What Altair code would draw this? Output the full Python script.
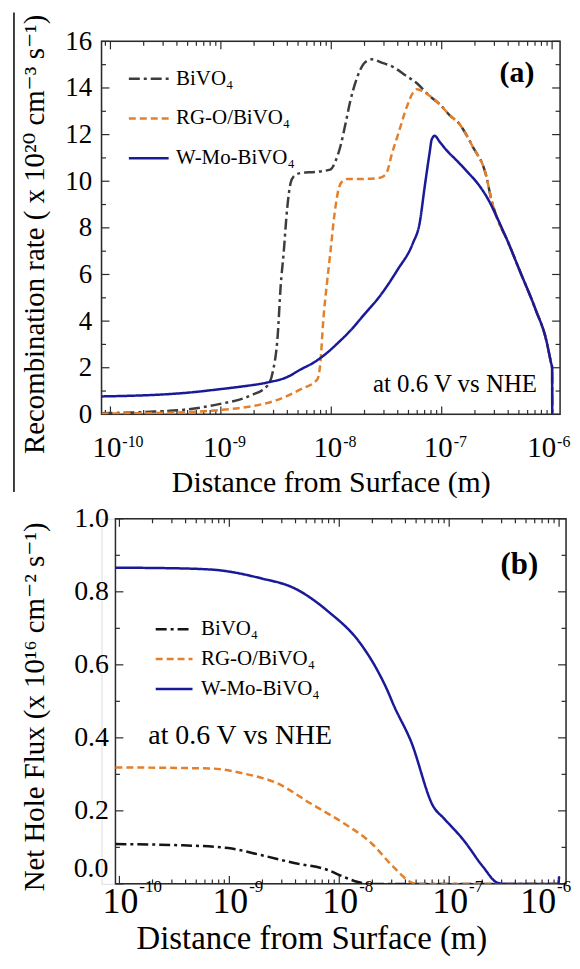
import altair as alt
import pandas as pd

FONT = "Liberation Serif"
FONT_STACK = "Liberation Serif, DejaVu Serif"
FRAME = "#2b2b2b"

SERIES = ["BiVO₄", "RG-O/BiVO₄", "W-Mo-BiVO₄"]
COLORS_A = ["#3d3d3d", "#E4802B", "#1A1A98"]
COLORS_B = ["#141414", "#E4802B", "#1A1A98"]
DASHES = [[11, 4, 3, 4], [7, 4], [1, 0]]

# ---------------- panel (a): recombination rate ----------------
A_BIVO_X = [8.32e-11, 2.51e-10, 4.65e-10, 9.4e-10, 1.86e-9, 2.65e-9, 2.94e-9, 3.27e-9, 3.48e-9,
            3.70e-9, 3.98e-9, 4.27e-9, 4.55e-9, 5.25e-9, 7.08e-9, 9.79e-9, 1.10e-8, 1.21e-8,
            1.35e-8, 1.48e-8, 1.70e-8, 1.94e-8, 2.19e-8, 2.34e-8, 2.82e-8, 3.63e-8, 4.68e-8,
            5.96e-8, 7.59e-8, 9.6e-8, 1.17e-7, 1.45e-7, 1.90e-7, 2.54e-7, 2.82e-7, 3.13e-7,
            3.98e-7, 5.05e-7, 7.08e-7, 8.83e-7, 9.79e-7, 1.0e-6, 1.002e-6]
A_BIVO_Y = [0.05, 0.12, 0.2, 0.43, 0.81, 1.24, 1.79, 3.37, 5.5,
            6.9, 8.8, 9.9, 10.2, 10.35, 10.4, 10.5, 10.9, 11.5,
            12.5, 13.4, 14.4, 15.0, 15.2, 15.23, 15.1, 14.9, 14.55,
            14.2, 13.7, 13.3, 12.85, 12.45, 11.5, 10.2, 9.2, 8.5,
            7.4, 6.2, 4.5, 3.2, 2.2, 2.0, 0.0]

A_RGO_X = [8.32e-11, 2.51e-10, 4.65e-10, 9.4e-10, 1.86e-9, 3.16e-9, 5.25e-9, 7.48e-9, 7.96e-9,
           8.47e-9, 9.12e-9, 9.79e-9, 1.07e-8, 1.17e-8, 1.26e-8, 1.41e-8, 2.0e-8, 2.76e-8,
           2.95e-8, 3.2e-8, 3.55e-8, 4.02e-8, 4.84e-8, 5.50e-8, 5.96e-8, 6.76e-8, 7.59e-8,
           9.6e-8, 1.17e-7, 1.45e-7, 1.90e-7, 2.54e-7, 2.82e-7, 3.13e-7, 3.98e-7, 5.05e-7,
           7.08e-7, 8.83e-7, 9.79e-7, 1.0e-6, 1.002e-6]
A_RGO_Y = [0.03, 0.06, 0.09, 0.18, 0.34, 0.6, 1.07, 1.5, 2.2,
           4.05, 5.6, 6.9, 8.6, 9.7, 10.0, 10.1, 10.1, 10.15,
           10.2, 10.4, 11.2, 12.0, 13.2, 13.8, 13.95, 13.85, 13.7,
           13.3, 12.85, 12.45, 11.5, 10.2, 9.2, 8.5, 7.4, 6.2,
           4.5, 3.2, 2.2, 2.0, 0.0]

A_WMO_X = [8.32e-11, 1.58e-10, 2.88e-10, 5.01e-10, 9.4e-10, 1.58e-9, 2.65e-9, 3.98e-9, 5.25e-9,
           7.08e-9, 9.2e-9, 1.17e-8, 1.48e-8, 2.0e-8, 2.76e-8, 3.98e-8, 5.48e-8, 6.31e-8,
           7.03e-8, 7.76e-8, 8.13e-8, 8.65e-8, 9.55e-8, 1.12e-7, 1.36e-7, 1.75e-7, 2.20e-7,
           2.70e-7, 3.13e-7, 3.98e-7, 5.05e-7, 7.08e-7, 8.83e-7, 9.79e-7, 1.0e-6, 1.002e-6]
A_WMO_Y = [0.77, 0.8, 0.85, 0.93, 1.07, 1.2, 1.37, 1.6, 1.92,
           2.25, 2.65, 3.1, 3.58, 4.3, 5.08, 6.2, 7.34, 8.2,
           9.8, 11.2, 11.8, 11.95, 11.7, 11.3, 10.9, 10.35, 9.8,
           9.13, 8.5, 7.4, 6.2, 4.5, 3.2, 2.2, 2.0, 0.0]

# ---------------- panel (b): net hole flux ----------------
B_BIVO_X = [9.2e-11, 3.43e-10, 9.77e-10, 1.94e-9, 3.89e-9, 7.87e-9, 1.10e-8, 1.48e-8, 1.95e-8,
            1.0e-7, 1.0e-6]
B_BIVO_Y = [0.109, 0.106, 0.098, 0.079, 0.057, 0.038, 0.019, 0.005, 0.0, 0.0, 0.0]

B_RGO_X = [9.2e-11, 6.82e-10, 1.36e-9, 2.75e-9, 5.5e-9, 1.10e-8, 1.95e-8, 3.12e-8, 4.47e-8,
           5.13e-8, 1.0e-7, 1.0e-6]
B_RGO_Y = [0.319, 0.316, 0.302, 0.275, 0.22, 0.166, 0.112, 0.046, 0.005, 0.0, 0.0, 0.0]

B_WMO_X = [9.2e-11, 2.51e-10, 6.82e-10, 1.94e-9, 3.89e-9, 7.87e-9, 1.57e-8, 2.24e-8, 2.75e-8,
           3.12e-8, 4.47e-8, 7.24e-8, 8.91e-8, 1.35e-7, 2.04e-7, 2.75e-7, 3.2e-7, 9.5e-7,
           9.8e-7, 1.0e-6]
B_WMO_Y = [0.866, 0.865, 0.861, 0.837, 0.81, 0.747, 0.657, 0.583, 0.529,
           0.49, 0.392, 0.21, 0.18, 0.12, 0.046, 0.003, 0.0, 0.0,
           0.0, 0.02]

# ---------------- ticks and labels ----------------
DECADES = [1e-10, 1e-9, 1e-8, 1e-7, 1e-6]
EXPONENTS = ["-10", "-9", "-8", "-7", "-6"]
MINOR_MULT = [2, 3, 4, 5, 6, 7, 8, 9]
MINOR_BASE = [1e-11, 1e-10, 1e-9, 1e-8, 1e-7]
A_YMAJOR = [0, 2, 4, 6, 8, 10, 12, 14, 16]
A_YMINOR = [1, 3, 5, 7, 9, 11, 13, 15]
B_YMAJOR = [0.0, 0.2, 0.4, 0.6, 0.8, 1.0]
B_YMINOR = [0.1, 0.3, 0.5, 0.7, 0.9]


def series_df(xs_list, ys_list):
    rows = []
    for s, xs, ys in zip(SERIES, xs_list, ys_list):
        for i, (x, y) in enumerate(zip(xs, ys)):
            rows.append({"series": s, "x": x, "y": y, "i": i})
    return pd.DataFrame(rows)


def panel(df, colors, xdom, frame_x, ydom, W, H, left_px, ymaj, ymin, yaxis, xaxis,
          legend, lab10, labexp, last_shift, annotations, extra=None, zero_label=None):
    xs = alt.Scale(type="log", domain=xdom)
    ys = alt.Scale(domain=ydom, nice=False, zero=False)

    def X(f):
        return alt.X(f, type="quantitative", scale=xs, axis=xaxis)

    def Y(f):
        return alt.Y(f, type="quantitative", scale=ys, axis=yaxis)

    layers = []
    lines = alt.Chart(df).mark_line(strokeWidth=2.5, clip=True, interpolate="monotone").encode(
        x=X("x"), y=Y("y"),
        color=alt.Color("series:N", scale=alt.Scale(domain=SERIES, range=colors), legend=legend),
        strokeDash=alt.StrokeDash("series:N", scale=alt.Scale(domain=SERIES, range=DASHES),
                                  legend=legend),
        order=alt.Order("i:Q"),
    )
    frame = alt.Chart(pd.DataFrame({"x0": [frame_x[0]], "x1": [frame_x[1]],
                                    "y0": [ydom[0]], "y1": [ydom[1]]})).mark_rect(
        fillOpacity=0, stroke=FRAME, strokeWidth=1.5).encode(
        x=X("x0"), x2="x1", y=Y("y0"), y2="y1")
    layers.append(frame)

    minor_x = [m * b for b in MINOR_BASE for m in MINOR_MULT if frame_x[0] < m * b < frame_x[1]]
    for vals, ln in [(DECADES, 8), (minor_x, 4.5)]:
        b = alt.Chart(pd.DataFrame({"v": vals})).mark_rule(stroke=FRAME, strokeWidth=1.2)
        layers.append(b.encode(x=X("v"), y=alt.value(H), y2=alt.value(H - ln)))
        layers.append(b.encode(x=X("v"), y=alt.value(0), y2=alt.value(ln)))
    for vals, ln in [(ymaj, 8), (ymin, 4.5)]:
        b = alt.Chart(pd.DataFrame({"v": vals})).mark_rule(stroke=FRAME, strokeWidth=1.2)
        layers.append(b.encode(y=Y("v"), x=alt.value(left_px), x2=alt.value(left_px + ln)))
        layers.append(b.encode(y=Y("v"), x=alt.value(W), x2=alt.value(W - ln)))

    # decade labels "10" with raised exponent; the last one is nudged inside the page
    for sub, shift in [(slice(0, 4), 0), (slice(4, 5), last_shift)]:
        lab = pd.DataFrame({"v": DECADES[sub], "e": EXPONENTS[sub]})
        layers.append(alt.Chart(lab).mark_text(text="10", font=FONT, fontSize=lab10[0],
                                               align="right", baseline="alphabetic",
                                               dx=lab10[2] + shift, color="black")
                      .encode(x=X("v"), y=alt.value(H + lab10[1])))
        layers.append(alt.Chart(lab).mark_text(font=FONT, fontSize=labexp[0], align="left",
                                               baseline="alphabetic", dx=labexp[2] + shift,
                                               color="black")
                      .encode(x=X("v"), y=alt.value(H + labexp[1]), text="e:N"))

    if zero_label is not None:
        zl = pd.DataFrame({"v": [zero_label[0]], "t": [zero_label[1]]})
        layers.append(alt.Chart(zl).mark_text(font=FONT, fontSize=zero_label[2], align="right",
                                              baseline="middle", dy=zero_label[3],
                                              color="black")
                      .encode(y=Y("v"), x=alt.value(left_px - zero_label[4]), text="t:N"))

    for (ax, ay, txt, size, weight, align) in annotations:
        layers.append(alt.Chart(pd.DataFrame({"x": [ax], "y": [ay], "t": [txt]})).mark_text(
            font=FONT, fontSize=size, fontWeight=weight, align=align, baseline="alphabetic",
            color="black").encode(x=X("x"), y=Y("y"), text="t:N"))
    layers.append(lines)
    if extra is not None:
        layers.append(extra)
    return alt.layer(*layers).properties(width=W, height=H)


# ---------- panel (a) ----------
A_W, A_H = 461, 375
a_yaxis = alt.Axis(values=A_YMAJOR, format="d", ticks=False, tickSize=0, domain=False, grid=False,
                   labelFontSize=27, labelPadding=10, labelFont=FONT,
                   title="Recombination rate ( x 10²⁰ cm⁻³ s⁻¹)", titleFont=FONT_STACK,
                   titleFontWeight="normal", titleFontSize=29, titlePadding=15,
                   titleY=193.5)
a_xaxis = alt.Axis(labels=False, ticks=False, tickSize=0, domain=False, grid=False,
                   title="Distance from Surface (m)", titleFont=FONT, titleFontWeight="normal",
                   titleFontSize=30, titlePadding=54)
a_legend = alt.Legend(orient="none", legendX=26, legendY=16, title=None, labelFont=FONT_STACK,
                      labelFontSize=21, labelFontWeight="normal", labelColor="black",
                      symbolType="stroke", symbolSize=1600, symbolStrokeWidth=2.5,
                      rowPadding=8, padding=0, labelOffset=6)
border = alt.Chart(pd.DataFrame({"k": [0]})).mark_rule(stroke="black", strokeWidth=1.5).encode(
    x=alt.value(-88), y=alt.value(-29), y2=alt.value(453))

top = panel(series_df([A_BIVO_X, A_RGO_X, A_WMO_X], [A_BIVO_Y, A_RGO_Y, A_WMO_Y]), COLORS_A,
            [8.3e-11, 1.18e-6], [8.3e-11, 1.18e-6], [0, 16], A_W, A_H, 0,
            A_YMAJOR, A_YMINOR, a_yaxis, a_xaxis, a_legend,
            (29, 43, 11), (16, 33, 12), -7,
            [(6.9e-7, 14.25, "(a)", 30, "bold", "right"),
             (7.3e-7, 0.94, "at 0.6 V vs NHE", 25, "normal", "right")],
            extra=border)

# ---------- panel (b) ----------
B_W, B_H = 467, 367
b_yaxis = alt.Axis(values=B_YMAJOR[1:], format=".1f", ticks=False, tickSize=0, domain=False,
                   grid=False, labelFontSize=28, labelPadding=7, offset=-14, labelFont=FONT,
                   title="Net Hole Flux (x 10¹⁶ cm⁻² s⁻¹)", titleFont=FONT_STACK,
                   titleFontWeight="normal", titleFontSize=29, titlePadding=24,
                   titleY=188.5)
b_xaxis = alt.Axis(labels=False, ticks=False, tickSize=0, domain=False, grid=False,
                   title="Distance from Surface (m)", titleFont=FONT, titleFontWeight="normal",
                   titleFontSize=33, titlePadding=39, titleX=211)
b_legend = alt.Legend(orient="none", legendX=53, legendY=91, title=None, labelFont=FONT_STACK,
                      labelFontSize=21, labelFontWeight="normal", labelColor="black",
                      symbolType="stroke", symbolSize=1369, symbolStrokeWidth=2.5,
                      rowPadding=-1.5, padding=0, labelOffset=7)

bottom = panel(series_df([B_BIVO_X, B_RGO_X, B_WMO_X], [B_BIVO_Y, B_RGO_Y, B_WMO_Y]), COLORS_B,
               [6.87e-11, 1.156e-6], [9.2e-11, 1.156e-6], [0, 1], B_W, B_H, 14,
               B_YMAJOR, B_YMINOR, b_yaxis, b_xaxis, b_legend,
               (36, 29, 19), (17, 8, 20), -22,
               [(6.46e-7, 0.85, "(b)", 31, "bold", "right"),
                (1.83e-10, 0.384, "at 0.6 V vs NHE", 28, "normal", "left")],
               zero_label=(B_YMAJOR[0], "0.0", 28, -15, 7))

chart = alt.vconcat(top, bottom, spacing=5).resolve_scale(
    x="independent", y="independent", color="independent", strokeDash="independent"
).resolve_legend(color="independent", strokeDash="independent").properties(
    padding={"left": 4, "top": 0, "right": 0, "bottom": 0}
).configure_view(strokeWidth=0).configure_axis(
    labelFont=FONT, titleFont=FONT, labelColor="black", titleColor="black",
    titleFontWeight="normal"
).configure(font=FONT)

chart.save("out.html", embed_options={"renderer": "svg", "actions": False})
